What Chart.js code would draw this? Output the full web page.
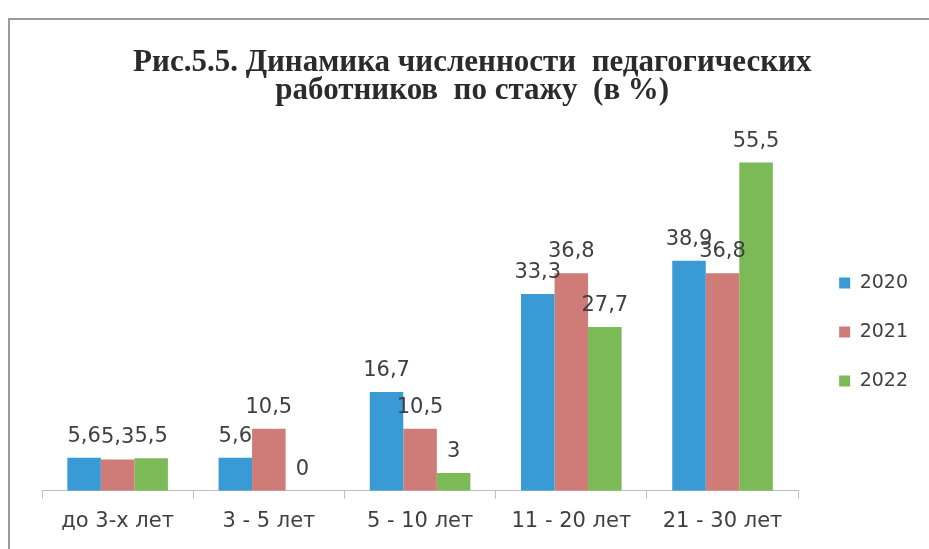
<!DOCTYPE html>
<html lang="ru">
<head>
<meta charset="utf-8">
<title>Рис.5.5</title>
<script src="https://cdn.jsdelivr.net/npm/chart.js@4"></script>
<style>
    html, body { margin: 0; padding: 0; background: #fff; }
    body { width: 929px; height: 549px; position: relative; overflow: hidden; }
    .frame { position: absolute; left: 8px; top: 18px; width: 960px; height: 600px; border: 2px solid #9a9a9a; box-sizing: border-box; }
    #wrap { position: absolute; left: 0; top: 0; width: 929px; height: 549px; }
</style>
</head>
<body>
<div class="frame"></div>
<div id="wrap"><canvas id="stazhChart"></canvas></div>
<script>
const categories = ["до 3-х лет", "3 - 5 лет", "5 - 10 лет", "11 - 20 лет", "21 - 30 лет"];
const years = ["2020", "2021", "2022"];
const values2020 = [5.6, 5.6, 16.7, 33.3, 38.9];
const values2021 = [5.3, 10.5, 10.5, 36.8, 36.8];
const values2022 = [5.5, 0, 3, 27.7, 55.5];
const colors = ["#3a9ad6", "#cf7b78", "#7cba58"];

// value labels above the bars, decimal comma
const barLabels = {
    id: "barLabels",
    afterDatasetsDraw(chart) {
        const ctx = chart.ctx;
        ctx.save();
        ctx.font = "21px 'DejaVu Sans', sans-serif";
        ctx.fillStyle = "#404040";
        ctx.textAlign = "center";
        ctx.textBaseline = "alphabetic";
        chart.data.datasets.forEach((ds, i) => {
            chart.getDatasetMeta(i).data.forEach((bar, j) => {
                const txt = String(ds.data[j]).replace(".", ",");
                ctx.fillText(txt, bar.x, bar.y - 16);
            });
        });
        ctx.restore();
    }
};

const ctx = document.getElementById("stazhChart").getContext("2d");
new Chart(ctx, {
    type: "bar",
    data: {
        labels: categories,
        datasets: [
            { label: years[0], data: values2020, backgroundColor: colors[0] },
            { label: years[1], data: values2021, backgroundColor: colors[1] },
            { label: years[2], data: values2022, backgroundColor: colors[2] }
        ]
    },
    options: {
        responsive: true,
        maintainAspectRatio: false,
        animation: false,
        categoryPercentage: 0.665,
        barPercentage: 1,
        layout: { padding: { left: 42, right: 11, top: 0, bottom: 5 } },
        plugins: {
            title: {
                display: true,
                // trailing nbsp nudge the centred title a little to the left
                text: ["Рис.5.5. Динамика численности  педагогических\u00a0\u00a0", "работников  по стажу  (в %)\u00a0\u00a0"],
                color: "#2b2b2b",
                font: { family: "'Liberation Serif', serif", size: 31, weight: "bold", lineHeight: 0.903 },
                padding: { top: 49, bottom: 31 }
            },
            legend: {
                position: "right",
                title: {
                    display: true,
                    text: " ",
                    font: { size: 19, lineHeight: 1.2 },
                    padding: { top: 97, bottom: 0 }
                },
                labels: {
                    boxWidth: 11,
                    boxHeight: 11,
                    padding: 30,
                    color: "#404040",
                    font: { family: "'DejaVu Sans', sans-serif", size: 19 }
                }
            },
            tooltip: { enabled: false }
        },
        scales: {
            x: {
                grid: { display: true, drawOnChartArea: false, color: "#bfbfbf", tickLength: 8 },
                border: { color: "#bfbfbf" },
                ticks: {
                    color: "#404040",
                    padding: 10,
                    font: { family: "'DejaVu Sans', sans-serif", size: 21 }
                }
            },
            y: { display: false, min: 0, max: 60 },
            gap: {
                position: "right",
                display: true,
                grid: { display: false },
                border: { display: false },
                ticks: { display: false },
                afterFit(scale) { scale.width = 11; }
            }
        }
    },
    plugins: [barLabels]
});
</script>
</body>
</html>
